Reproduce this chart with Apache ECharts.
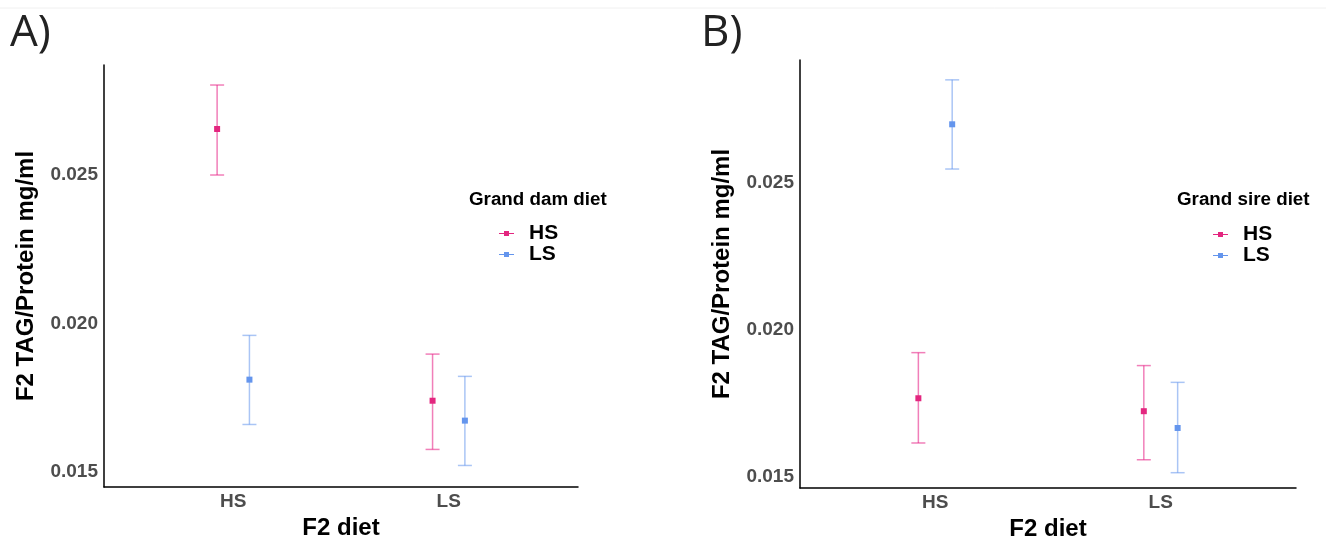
<!DOCTYPE html>
<html>
<head>
<meta charset="utf-8">
<script src="https://cdn.jsdelivr.net/npm/echarts@6/dist/echarts.min.js"></script>
<style>
	html, body { margin: 0; padding: 0; background: #fff; }
	#main { width: 1326px; height: 546px; }
</style>
</head>
<body>
<div id="main"></div>
<script>
'use strict';
// F2 diet groups on the x axis
var categories = ['HS', 'LS'];
var yTicks = [0.015, 0.020, 0.025];

// A) grand dam diet
var damHSMean = [0.02655, 0.01740];
var damHSLow = [0.02500, 0.01576];
var damHSHigh = [0.02803, 0.01897];
var damLSMean = [0.01811, 0.01673];
var damLSLow = [0.01660, 0.01522];
var damLSHigh = [0.01960, 0.01822];

// B) grand sire diet
var sireHSMean = [0.01768, 0.01724];
var sireHSLow = [0.01616, 0.01559];
var sireHSHigh = [0.01923, 0.01879];
var sireLSMean = [0.02699, 0.01667];
var sireLSLow = [0.02547, 0.01515];
var sireLSHigh = [0.02850, 0.01822];

var pink = '#e3267f';
var pinkLine = 'rgba(231,41,138,0.6)';
var blue = '#6495ed';
var blueLine = 'rgba(100,149,237,0.55)';
var dodge = 0.075;
var font = '"Liberation Sans", Arial, sans-serif';

function points(mean, low, high, shift) {
	return categories.map(function (c, i) {
		return [i + 1 + shift, mean[i], low[i], high[i]];
	});
}

function errorSeries(name, idx, data, color, lineColor) {
	return {
		name: name,
		type: 'custom',
		xAxisIndex: idx,
		yAxisIndex: idx,
		itemStyle: { color: color },
		data: data,
		renderItem: function (params, api) {
			var mid = api.coord([api.value(0), api.value(1)]);
			var lo = api.coord([api.value(0), api.value(2)]);
			var hi = api.coord([api.value(0), api.value(3)]);
			var cap = 7;
			var ls = { stroke: lineColor, lineWidth: 1.5 };
			return {
				type: 'group',
				children: [
					{ type: 'line', shape: { x1: lo[0], y1: lo[1], x2: hi[0], y2: hi[1] }, style: ls },
					{ type: 'line', shape: { x1: lo[0] - cap, y1: lo[1], x2: lo[0] + cap, y2: lo[1] }, style: ls },
					{ type: 'line', shape: { x1: hi[0] - cap, y1: hi[1], x2: hi[0] + cap, y2: hi[1] }, style: ls },
					{ type: 'rect', shape: { x: mid[0] - 3, y: mid[1] - 3, width: 6, height: 6 }, style: { fill: color } }
				]
			};
		}
	};
}

function xAxis(idx, gap) {
	return {
		type: 'value',
		gridIndex: idx,
		min: 0.4,
		max: 2.6,
		name: 'F2 diet',
		nameLocation: 'middle',
		nameGap: gap,
		nameTextStyle: { fontFamily: font, fontWeight: 'bold', fontSize: 24, color: '#000' },
		axisLine: { lineStyle: { color: '#000', width: 1.5 } },
		axisTick: { show: false },
		splitLine: { show: false },
		axisLabel: {
			customValues: [1, 2],
			formatter: function (v) { return categories[Math.round(v) - 1]; },
			margin: 5,
			fontFamily: font, fontWeight: 'bold', fontSize: 19, color: '#4d4d4d'
		}
	};
}

function yAxis(idx, min, max) {
	return {
		type: 'value',
		gridIndex: idx,
		min: min,
		max: max,
		name: 'F2 TAG/Protein mg/ml',
		nameLocation: 'middle',
		nameGap: 66,
		nameTextStyle: { fontFamily: font, fontWeight: 'bold', fontSize: 24, color: '#000' },
		axisLine: { show: true, lineStyle: { color: '#000', width: 1.5 } },
		axisTick: { show: false },
		splitLine: { show: false },
		axisLabel: {
			customValues: yTicks,
			formatter: function (v) { return v.toFixed(3); },
			margin: 6,
			fontFamily: font, fontWeight: 'bold', fontSize: 19, color: '#4d4d4d'
		}
	};
}

function legend(left, top) {
	return {
		orient: 'vertical',
		left: left,
		top: top,
		data: ['HS', 'LS'],
		selectedMode: false,
		icon: 'path://M0,2L5,2L5,0L10,0L10,2L15,2L15,3L10,3L10,5L5,5L5,3L0,3Z',
		itemWidth: 15,
		itemHeight: 5,
		itemGap: 0,
		textStyle: { fontFamily: font, fontWeight: 'bold', fontSize: 21, color: '#000', lineHeight: 21, padding: [0, 0, 0, 10] }
	};
}

var chart = echarts.init(document.getElementById('main'));
chart.setOption({
	backgroundColor: '#fff',
	animation: false,
	grid: [
		{ left: 104, top: 65, width: 474, height: 422 },
		{ left: 800, top: 60, width: 496, height: 432 }
	],
	xAxis: [xAxis(0, 27), xAxis(1, 29)],
	yAxis: [yAxis(0, 0.014495, 0.028704), yAxis(1, 0.01463, 0.029175)],
	legend: [legend(494, 218), legend(1208, 219)],
	graphic: [
		{ type: 'line', shape: { x1: 0, y1: 8, x2: 1326, y2: 8 }, style: { stroke: '#f0f0f0', lineWidth: 1 } },
		{ type: 'text', left: 10, top: 11, style: { text: 'A)', font: '44px "Open Sans", sans-serif', fill: '#222' } },
		{ type: 'text', left: 701, top: 11, style: { text: 'B)', font: '44px "Open Sans", sans-serif', fill: '#222' } },
		{ type: 'text', left: 469, top: 190, style: { text: 'Grand dam diet', font: 'bold 18.8px ' + font, fill: '#000' } },
		{ type: 'text', left: 1177, top: 190, style: { text: 'Grand sire diet', font: 'bold 18.8px ' + font, fill: '#000' } }
	],
	series: [
		errorSeries('HS', 0, points(damHSMean, damHSLow, damHSHigh, -dodge), pink, pinkLine),
		errorSeries('LS', 0, points(damLSMean, damLSLow, damLSHigh, dodge), blue, blueLine),
		errorSeries('HS', 1, points(sireHSMean, sireHSLow, sireHSHigh, -dodge), pink, pinkLine),
		errorSeries('LS', 1, points(sireLSMean, sireLSLow, sireLSHigh, dodge), blue, blueLine)
	]
});
</script>
</body>
</html>
